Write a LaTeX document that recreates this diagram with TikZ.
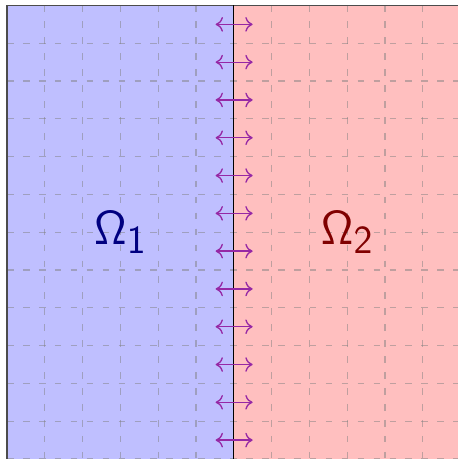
\documentclass[tikz,border=0pt]{standalone}
\usetikzlibrary{arrows.meta}
\definecolor{arrowcol}{RGB}{150,40,165}
\tikzset{
  gridline/.style={gray, opacity=0.5, line width=0.9pt, dash pattern=on 5pt off 7pt},
  swap/.style={arrowcol, line width=1pt, {Computer Modern Rightarrow[length=5.5pt,width=11pt]}-{Computer Modern Rightarrow[length=5.5pt,width=11pt]}},
  lbl/.style={font=\Huge, scale=1.45}
}
\begin{document}
\begin{tikzpicture}
\useasboundingbox (-0.185,0) rectangle (11.93,12.145);
\fill[blue!25] (0,-1) rectangle (6,12);
\fill[red!25] (6,-1) rectangle (13,12);
\foreach \k in {1,...,12} {
  \draw[gridline] (\k,12) -- (\k,-1);
}
\foreach \k in {0,...,11} {
  \draw[gridline] (0,\k) -- (13,\k);
}
\draw[black!70, line width=1.4pt] (0,-1) -- (0,12) -- (13,12);
\coordinate (top) at (6,12);
\coordinate (bot) at (6,-1);
\draw[black, line width=0.6pt] (top) -- (bot);
\foreach \i in {0,...,11} {
  \coordinate (l\i) at (5.52,\i+0.5);
  \coordinate (r\i) at (6.5,\i+0.5);
  \draw[swap] (l\i) -- (r\i);
}
\node[lbl, text=blue!50!black] (o1) at (3,6) {$\mathsf{\Omega}_{\mathsf{1}}$};
\node[lbl, text=red!50!black] (o2) at (9,6) {$\mathsf{\Omega}_{\mathsf{2}}$};
\end{tikzpicture}
\end{document}
